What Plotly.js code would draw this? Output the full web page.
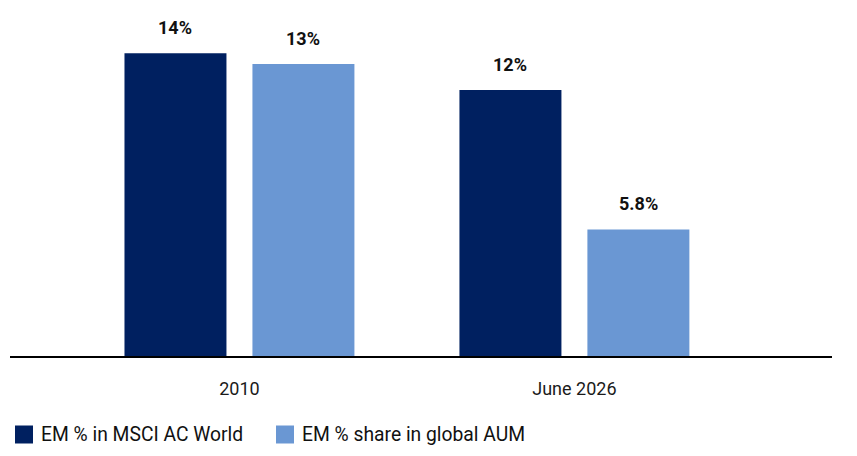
<!DOCTYPE html>
<html>
<head>
<meta charset="utf-8">
<script src="https://cdn.plot.ly/plotly-3.0.1.min.js"></script>
<style>html,body{margin:0;padding:0;background:#fff;}#chart{width:857px;height:456px;}</style>
</head>
<body>
<div id="chart"></div>
<script>
const categories = ["2010", "June 2026"];
const seriesNames = ["EM % in MSCI AC World", "EM % share in global AUM"];
const msciValues = [14.0, 12.3];
const aumValues = [13.5, 5.85];
const msciLabels = ["14%", "12%"];
const aumLabels = ["13%", "5.8%"];
const colors = ["#002060", "#6A97D3"];

const FONT = "Roboto, 'Liberation Sans', sans-serif";

const traces = [
  {type: "bar", name: seriesNames[0], x: categories, y: msciValues, marker: {color: colors[0]}, hoverinfo: "none"},
  {type: "bar", name: seriesNames[1], x: categories, y: aumValues, marker: {color: colors[1]}, hoverinfo: "none"}
];

const annotations = [];
const labelSets = [msciLabels, aumLabels];
const valueSets = [msciValues, aumValues];
const offsets = [-64, 64];
for (let s = 0; s < 2; s++) {
  for (let i = 0; i < categories.length; i++) {
    annotations.push({
      x: i, y: valueSets[s][i], xref: "x", yref: "y",
      text: labelSets[s][i], showarrow: false,
      xanchor: "center", yanchor: "bottom", xshift: offsets[s], yshift: 13,
      font: {family: FONT, size: 18, color: "#111111", weight: "bold"}
    });
  }
}
// legend (custom, to match large square swatches)
const legendX = [5, 266];
const shapes = [];
for (let s = 0; s < 2; s++) {
  shapes.push({
    type: "rect", xref: "paper", yref: "paper", xsizemode: "pixel", ysizemode: "pixel",
    xanchor: 0, yanchor: 0, x0: legendX[s], x1: legendX[s] + 18, y0: -69.5, y1: -87.5,
    fillcolor: colors[s], line: {width: 0}
  });
  annotations.push({
    xref: "paper", yref: "paper", x: 0, y: 0, xanchor: "left", yanchor: "middle",
    xshift: legendX[s] + 23.5, yshift: -78.5, showarrow: false, text: seriesNames[s],
    font: {family: FONT, size: 19.3, color: "#111111"}
  });
}

const layout = {
  width: 857, height: 456,
  margin: {l: 10, r: 25, t: 0, b: 100},
  paper_bgcolor: "#ffffff", plot_bgcolor: "#ffffff",
  barmode: "group", bargap: 0.236, bargroupgap: 0.203,
  showlegend: false,
  xaxis: {
    type: "category", range: [-0.685, 1.769], showgrid: false, zeroline: false,
    showline: true, linecolor: "#000000", linewidth: 2,
    ticks: "outside", ticklen: 15.5, tickcolor: "rgba(0,0,0,0)",
    tickfont: {family: FONT, size: 18, color: "#1a1a1a"}
  },
  yaxis: {range: [0, 16.46], visible: false, showgrid: false, zeroline: false},
  annotations: annotations,
  shapes: shapes
};

Plotly.newPlot("chart", traces, layout, {displayModeBar: false, staticPlot: true});
</script>
</body>
</html>
